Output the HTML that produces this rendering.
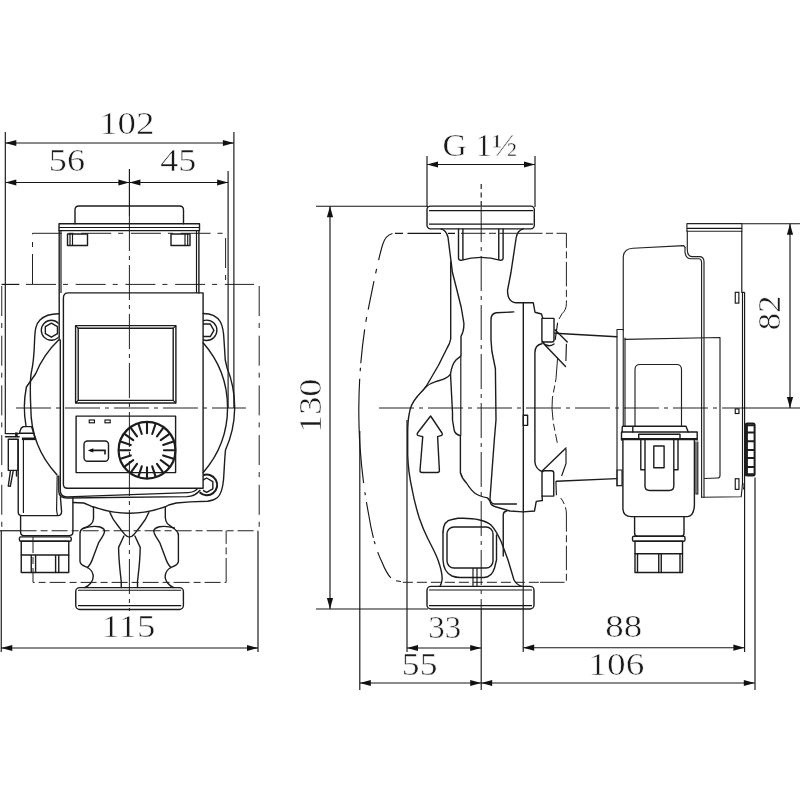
<!DOCTYPE html>
<html><head><meta charset="utf-8"><title>Pump dimensions</title>
<style>
html,body{margin:0;padding:0;background:#fff}
body{width:800px;height:800px;overflow:hidden}
svg{display:block;will-change:transform}
.k{fill:none;stroke:#1c1c1c;stroke-width:1.4;stroke-linecap:round;stroke-linejoin:round}
.m{fill:none;stroke:#222;stroke-width:1.15;stroke-linecap:round;stroke-linejoin:round}
.kk{fill:none;stroke:#1c1c1c;stroke-width:2}
.t{fill:none;stroke:#161616;stroke-width:1.15}
.d{fill:none;stroke:#222;stroke-width:1;stroke-dasharray:30 7 5 7.7}
.dd{fill:none;stroke:#222;stroke-width:1;stroke-dasharray:10 4}
.e{fill:none;stroke:#222;stroke-width:1;stroke-dasharray:24.5 3.5 7 3.5}
.g{fill:none;stroke:#222;stroke-width:1;stroke-dasharray:16 4 7 4}
.f{fill:none;stroke:#222;stroke-width:1;stroke-dasharray:44 6 6 6}
.c{fill:none;stroke:#222;stroke-width:1;stroke-dasharray:35 5 4 5}
.a{fill:#111;stroke:none}
.w{fill:#fff;stroke:#1c1c1c;stroke-width:1.25;stroke-linejoin:round}
text{font-family:"Liberation Serif","DejaVu Serif",serif;fill:#1a1a1a;stroke:#fff;stroke-width:.5;paint-order:fill stroke}
</style></head><body>
<svg width="800" height="800" viewBox="0 0 800 800">
<rect width="800" height="800" fill="#fff"/>
<g id="front-view">
<path class="t" d="M5.3,132V434 M233.9,132V408 M228.1,171V408"/>
<path class="t" d="M5.3,143H233.9"/>
<polygon class="a" points="5.30,143.00 16.30,139.90 16.30,146.10"/>
<polygon class="a" points="233.90,143.00 222.90,146.10 222.90,139.90"/>
<path class="t" d="M5.3,182.5H129.4"/>
<polygon class="a" points="5.30,182.50 16.30,179.40 16.30,185.60"/>
<polygon class="a" points="129.40,182.50 118.40,185.60 118.40,179.40"/>
<path class="t" d="M129.4,182.5H228.1"/>
<polygon class="a" points="129.40,182.50 140.40,179.40 140.40,185.60"/>
<polygon class="a" points="228.10,182.50 217.10,185.60 217.10,179.40"/>
<path class="t" d="M1.25,531V652 M258,531V652"/>
<path class="t" d="M1.25,648H258"/>
<polygon class="a" points="1.25,648.00 12.25,644.90 12.25,651.10"/>
<polygon class="a" points="258.00,648.00 247.00,651.10 247.00,644.90"/>
<text x="99.18" y="134" font-size="30.5" textLength="55.35" lengthAdjust="spacingAndGlyphs">102</text>
<text x="48.82" y="171" font-size="30.5" textLength="36.26" lengthAdjust="spacingAndGlyphs">56</text>
<text x="160.28" y="171" font-size="30.5" textLength="36.17" lengthAdjust="spacingAndGlyphs">45</text>
<text x="101.48" y="636.8" font-size="30.5" textLength="53.91" lengthAdjust="spacingAndGlyphs">115</text>
<path class="t" d="M129.4,169V216"/>
<path class="c" d="M129.4,216V611"/>
<path class="c" d="M16,408H246"/>
<path class="d" d="M32.5,284V233.3H225.6V284"/>
<path class="t" d="M1.5,284.4H19.3"/><path class="d" d="M26,284.4H254"/>
<path class="d" d="M1.75,286V530 M259.2,286V527"/>
<path class="t" d="M0,530.75H20.6"/>
<path class="g" d="M20.6,530.75H258"/>
<path class="g" d="M33,537V582.4H226.15"/><path class="e" d="M226.15,582.4V530.75"/>
<path class="k" d="M58.6,313.75C50,313.75 44,316 40,320C36,324 35,329 34.6,340C34.2,352 33.3,364 31.5,371.5C30,379 30.2,395 30.8,408A98.5,98.5 0 0 0 56.9,474.7"/>
<path class="k" d="M58.6,340A98.5,98.5 0 0 0 35.5,374L26.4,387A105,105 0 0 0 26,426"/>
<clipPath id="cl"><rect x="30" y="300" width="28.6" height="60"/></clipPath>
<g clip-path="url(#cl)"><circle class="k" cx="51.3" cy="330.3" r="10"/><polygon class="k" points="57.46,333.70 51.40,337.20 45.34,333.70 45.34,326.70 51.40,323.20 57.46,326.70"/></g>
<path class="k" d="M203.1,313.5C210,313.5 217,316 220.5,322C223,327 223.75,333 224,340L225.25,360L227.1,368A105,105 0 0 1 225.5,450C224.5,460 224.25,470 223.5,480C222.5,490 221,494.5 217.5,497.5C214,500.3 211,501 207.5,501.25L190,501.9L176.25,503L168.75,505L165.3,506.8V517.5C165.5,521 166.3,522.5 167.5,523.75L172.5,527.5C175.5,529.5 178,531.5 178.4,534.5"/>
<path class="k" d="M203.1,342.75A98.5,98.5 0 0 1 203.25,472.5"/>
<clipPath id="cr"><rect x="203.1" y="300" width="40" height="60"/></clipPath>
<g clip-path="url(#cr)"><circle class="k" cx="206.7" cy="330.3" r="10.2"/><polygon class="k" points="213.90,330.30 210.30,336.54 203.10,336.54 199.50,330.30 203.10,324.06 210.30,324.06"/></g>
<path class="kk" d="M203.2,475.3A10.3,10.3 0 1 1 199.6,492.2"/>
<clipPath id="cb"><rect x="203.1" y="470" width="40" height="40"/></clipPath>
<g clip-path="url(#cb)"><polygon class="k" points="212.84,488.80 206.60,492.40 200.36,488.80 200.36,481.60 206.60,478.00 212.84,481.60"/></g>
<path class="k" d="M75,223.75V210Q75,206 79,206H179.5Q183.5,206 183.5,210V223.75"/>
<rect class="k" x="59" y="223.75" width="140.5" height="6.85"/>
<path class="t" d="M59,227.5H199.5"/>
<path class="k" d="M59.2,230.6V340 M198.9,230.6V293"/>
<path class="t" d="M61,230.6V293 M196.5,230.6V293"/>
<rect class="k" x="67.5" y="234" width="20" height="11.5"/><path class="t" d="M70,234V245.5M72.5,234V245.5"/>
<rect class="k" x="171" y="234" width="19" height="11.5"/><path class="t" d="M185,234V245.5M187.7,234V245.5"/>
<path class="k" d="M68.4,292.9H203.1V488.3H67.4Q63.4,488.3 63.4,484.3V297.9Q63.4,292.9 68.4,292.9Z"/>
<path class="k" d="M60.3,340V490.5Q60.5,496.9 67,496.9L188,492.6Q194.5,492.3 197.5,488.6"/>
<path class="k" d="M58.8,476V491.5Q59,498 67,498L187,496.6Q195,496.3 200,490.2"/>
<rect class="k" x="75.6" y="325.6" width="100.3" height="77.4"/><rect class="k" x="78.2" y="328.3" width="95" height="72.1"/>
<path class="t" d="M75.6,325.6L78.2,328.3M175.9,325.6L173.2,328.3M75.6,403L78.2,400.4M175.9,403L173.2,400.4"/>
<rect class="k" x="76.1" y="416.1" width="99.5" height="56.5"/>
<rect class="t" x="89.25" y="420" width="5.2" height="2.8"/><rect class="t" x="105" y="420" width="5.2" height="2.8"/>
<rect class="k" x="84" y="441" width="24.5" height="20.3" rx="3.5"/>
<path class="kk" d="M90,450.4H105V454.5" style="stroke-width:1.6"/><polygon class="a" points="87.80,450.40 93.30,448.20 93.30,452.60"/>
<circle class="kk" style="stroke-width:2.2" cx="147" cy="450.2" r="28.4"/>
<path class="kk" style="stroke-width:2.1;stroke-linecap:round" d="M147.00,467.20L147.00,477.20M141.75,466.37L138.66,475.88M137.01,463.95L131.13,472.04M133.25,460.19L125.16,466.07M130.83,455.45L121.32,458.54M130.00,450.20L120.00,450.20M130.83,444.95L121.32,441.86M133.25,440.21L125.16,434.33M137.01,436.45L131.13,428.36M141.75,434.03L138.66,424.52M147.00,433.20L147.00,423.20M152.25,434.03L155.34,424.52M156.99,436.45L162.87,428.36M160.75,440.21L168.84,434.33M163.17,444.95L172.68,441.86M164.00,450.20L174.00,450.20M163.17,455.45L172.68,458.54M160.75,460.19L168.84,466.07M156.99,463.95L162.87,472.04M152.25,466.37L155.34,475.88"/>
<path class="k" d="M5.5,433.6H19.2 M5.5,436.7H19.2 M15.8,433V437 M17,433V437"/>
<path class="k" d="M19.25,433.4L21,428.4L23.2,426.6H31.5L33.25,431.9L35,438 M19.25,433.2H33.5"/>
<path class="kk" style="stroke-width:2.6" d="M21.9,438.8H35.9"/>
<path class="k" d="M18.2,439.4V512Q18.2,515.6 22,515.6H57.5Q61.5,515.8 61.6,511.5L60.4,497"/>
<path class="t" d="M23.4,439.4V513 M57.2,475.5L56.6,510L57.4,515"/>
<path class="k" d="M8.3,439.3H18V470.4H8.3Z M10.5,470.4L8.3,486L10.3,486.3L13.3,470.4 M16.5,470.4V476"/>
<path class="k" d="M20.6,515.6V532Q20.6,535.6 24,535.6H69Q72.9,535.6 72.9,532V497.8"/>
<rect class="k" x="19.4" y="536.9" width="51.85" height="4.35" rx="1.5"/>
<rect class="k" x="21.25" y="541.25" width="47.5" height="31.25"/>
<path class="k" d="M21.25,555H68.75M31.25,555V572.5M35.6,555V572.5M55.6,555V572.5M58.75,555V572.5"/>
<path class="k" d="M93,506.6A105,105 0 0 0 165.5,506.6"/>
<path class="k" d="M73.1,502.5L83.75,503L90,505.6L93.5,507.3V518.75C93.3,524 88,527 82.5,528.75Q80,530 80,533.75V561.25C80,565 84,566 87.5,567.5Q92,570 93,574.5Q94,579 90.6,583.25Q88,586.5 84.5,587.6"/>
<path class="k" d="M84,528C89,526.5 95,526 99,526.8Q104,528 104.6,530.75C104.6,535 101,538 98.5,543L93.25,557Q91,564 87.5,567.5"/>
<path class="k" d="M178.4,533.75V561.25C178.4,565 174.4,566 170.9,567.5Q166.4,570 165.4,574.5Q164.4,579 167.8,583.25Q170.4,586.5 173.9,587.6"/>
<path class="k" d="M174.4,528C169.4,526.5 163.4,526 159.4,526.8Q154.4,528 153.8,530.75C153.8,535 157.4,538 159.9,543L165.15,557Q167.4,564 170.9,567.5"/>
<path class="k" d="M109.9,512.4C112,518 114,521 117.75,525.5L123.9,533.4Q127,537 129.4,537Q132,537 134.9,533.4L141,525.5C144.7,521 146.5,518 148.8,512.4"/>
<path class="k" d="M123.9,536L118.6,547.4C118.6,560 120,570 121.25,581.5V587.5 M134.9,536L140.2,547.4C140.2,560 138.8,570 137.5,581.5V587.5"/>
<rect class="k" x="75.75" y="587.6" width="107.65" height="21.9" rx="4"/>
<path class="t" d="M78,590.25H181.2M78,605.6H181.2"/>
</g>
<g id="side-view">
<path class="t" d="M427,156V207 M535,156V207"/>
<path class="t" d="M427,164.5H535"/>
<polygon class="a" points="427.00,164.50 438.00,161.40 438.00,167.60"/>
<polygon class="a" points="535.00,164.50 524.00,167.60 524.00,161.40"/>
<text x="442.40" y="156.25" font-size="30.5" textLength="75.02" lengthAdjust="spacingAndGlyphs">G 1½</text>
<path class="t" d="M316,206.2H428 M316,609H428"/>
<path class="t" d="M330,206.2V609"/>
<polygon class="a" points="330.00,206.20 333.10,217.20 326.90,217.20"/>
<polygon class="a" points="330.00,609.00 326.90,598.00 333.10,598.00"/>
<text transform="translate(320.6,433.02) rotate(-90)" x="0" y="0" font-size="30.5" textLength="54.47" lengthAdjust="spacingAndGlyphs">130</text>
<path class="t" d="M742,223.75H800 M742.5,408H800"/>
<path class="t" d="M790,223.75V408"/>
<polygon class="a" points="790.00,223.75 793.10,234.75 786.90,234.75"/>
<polygon class="a" points="790.00,408.00 786.90,397.00 793.10,397.00"/>
<text transform="translate(780,330.13) rotate(-90)" x="0" y="0" font-size="30.5" textLength="34.53" lengthAdjust="spacingAndGlyphs">82</text>
<path class="t" d="M359.8,431V690 M407,420V652 M481.2,609V690 M523.2,512V652 M744.6,292.3V652 M755,477.5V690"/>
<path class="t" d="M407,648H481.2"/>
<polygon class="a" points="407.00,648.00 418.00,644.90 418.00,651.10"/>
<polygon class="a" points="481.20,648.00 470.20,651.10 470.20,644.90"/>
<path class="t" d="M523.2,647.7H744.4"/>
<polygon class="a" points="523.20,647.70 534.20,644.60 534.20,650.80"/>
<polygon class="a" points="744.40,647.70 733.40,650.80 733.40,644.60"/>
<path class="t" d="M359.8,683H481.2"/>
<polygon class="a" points="359.80,683.00 370.80,679.90 370.80,686.10"/>
<polygon class="a" points="481.20,683.00 470.20,686.10 470.20,679.90"/>
<path class="t" d="M481.2,683H754.8"/>
<polygon class="a" points="481.20,683.00 492.20,679.90 492.20,686.10"/>
<polygon class="a" points="754.80,683.00 743.80,686.10 743.80,679.90"/>
<text x="428.35" y="638" font-size="30.5" textLength="32.97" lengthAdjust="spacingAndGlyphs">33</text>
<text x="605.32" y="637" font-size="30.5" textLength="36.90" lengthAdjust="spacingAndGlyphs">88</text>
<text x="401.87" y="675" font-size="30.5" textLength="35.56" lengthAdjust="spacingAndGlyphs">55</text>
<text x="588.39" y="674.8" font-size="30.5" textLength="55.92" lengthAdjust="spacingAndGlyphs">106</text>
<path class="t" style="stroke-dasharray:5 3.5" d="M481.2,184V207"/><path class="c" d="M481.2,207V609"/>
<path class="c" d="M379,408H742.5"/>
<path class="t" style="stroke-dasharray:0 2 5 6 29 8.5 3 3.5 36.5 7 3 9.2 104.3 7.6 3.4 4.6 34 7.7 5 7.7 29 7.7 4.6 9.2 40 0" d="M402.9,581.8L395,580.6C390,579 386,572 381.9,562C376,550 372,535 368.75,515C365,495 362,475 360,446.7C359.2,435 358.8,420 358.8,408C359,375 362,345 366,320.75C370,300 378,260 382.5,245C384,240 386,235 392.5,233.5"/>
<path class="t" d="M395,233.3H403M407.5,233.3H441M448,233.3H455"/><path class="e" d="M461,233.3H518"/><path class="e" d="M518,233.3H566.4V303.25Q566.4,310 562,313.75L559,319"/>
<path class="dd" d="M402.9,582.3H540"/><path class="e" d="M540,582.3H566.4V514Q566.4,505 560,497"/>
<path class="e" d="M557.6,357.75L556,378.75L552.4,398L552,408.5L553.25,422.5L557.25,442.75"/>
<path class="t" d="M566.4,343.75L565.9,361 M557.6,322.75L555.2,340 M566,449V463.75L561.6,476 M555.9,481.25L556.4,495.25"/>
<rect class="k" x="427" y="206.1" width="107.3" height="22.75" rx="3.5"/>
<path class="t" d="M429,210.65H533M429,224.1H533"/>
<path class="k" d="M458.5,228.85V258Q458.5,260.3 461,260.3Q481,254.5 500.6,260.3Q503.1,260.3 503.1,258V228.85 M462.9,228.85V259.7 M498.75,228.85V259.7"/>
<path class="k" d="M441,228.85C445,230 447,233 448,237.25L452.4,272.25L456.9,290L461.25,307.5L463.9,323.25C464,328 463.5,332 461,336.4V355.6C459,358 457,359 456,360C453,363 451.6,367 450.5,374C448,378 444,379.25 435,381.9C431,383 428,385 425.3,387.4"/>
<path class="k" d="M450.7,262V339C450,343 449,345 447.25,347.75L438.5,365.25L426.25,386.25C422,392 419,394 415.75,398.5C412,403 410,408 409.2,414C408,420 407.7,425 407.7,432V455C408,467 410,480 412.25,490C414,500 416.5,509 419.25,518C422,526 425,533 428,539C431,545 435,552 438,560C440.5,567 442.5,576 442,580Q441.5,584 440,586.4"/>
<path class="k" d="M450.5,374L451.6,395L452.5,412.5V420L454.25,430.5Q455,434 460.4,435.75V472.5C461.5,477 463.5,480 466.5,483C469,487 472,491 475.25,493.5C479,496 483,497 487.5,497.9Q490,500 491,504Q493,506.5 498,507.5L510,511L523.1,511.9L534.5,511L536.25,501.4L542.4,500.5L542,496.1"/>
<path class="t" d="M460.8,355.6V435.75"/>
<path class="k" d="M523.25,228.85C519,230 517,233 516.25,237.25L511,272.25L507.6,290C507.3,296 508.5,299 511.5,301.2Q513.5,302.8 516,302.8H533.3L535,312.25L541.5,314L542.75,318.4"/>
<path class="k" d="M513.75,311.9L496.25,312.75Q491,313.5 491,319.75V340L491.9,351.25L495.4,368.75L496,420L494.5,437.5L491.9,472.5L490,498.75Q490.5,503.5 494.5,504H516.4"/>
<path class="k" d="M523.3,302.8V512"/>
<rect class="k" x="523.3" y="415.3" width="4.3" height="10.1"/>
<path class="k" d="M541.9,343.75Q535,345 534.9,352.5V462Q535.4,469 542.4,471.6"/>
<path class="k" d="M541.9,318.4H554V340Q554,342 552,342H544Q541.9,342 541.9,340Z M541.9,342Q548,348.5 554,344"/>
<path class="k" d="M542,496.1V473Q542,470.75 544.5,470.75H551.5Q553.75,470.75 553.75,473V496.1Z"/>
<path class="k" d="M555,333.25L616.75,336.75 M556.4,481.25L616.75,478.6"/>
<path class="k" d="M555,329.75L567.25,342 M544.5,344.6L565.5,366.5 M566,448L542.4,470.75"/>
<path class="k" d="M430.6,416L417.5,433Q416.5,435 418.5,435.6L422.75,436.6L420,470.5Q420,472.5 422,472.5H437.4Q439.4,472.5 439.4,470.5L437.6,436.6L441,435.6Q443,435 442,433Z"/>
<path class="k" d="M443,532V560Q443.5,572 452,576Q456,577.5 460,577.5H484Q492,577 494.5,568L496.5,560V535"/>
<path class="k" d="M443,532Q443.5,520.5 452,519.5L458,518.3C466,518 474,518.5 478.75,519.75Q487,521.5 491,525C496,530 499,537 501.5,542.5L508,560L514,580Q517,585 522,586.4"/>
<rect class="k" x="447" y="527" width="46" height="41" rx="7"/>
<path class="k" d="M503.25,556V514.5Q503.5,511.5 506.75,511"/>
<path class="t" d="M473,568V586 M477,568V586"/>
<rect class="k" x="427" y="586.4" width="107" height="22.6" rx="4"/>
<path class="t" d="M429,590H532M429,605.6H532"/>
<path class="m" d="M617,329.5V486 M617,329.5H623.25 M623.25,329.5V426 M625,338V426"/>
<rect class="m" x="617" y="470" width="5" height="15.6"/>
<path class="m" d="M623.25,330V258Q623.25,248.5 633,248.2L683.75,245.6L685.2,247.5"/>
<path class="m" d="M685,247.5V252Q685.6,258.75 691,258.75H699Q701.6,259 701.6,263V497.3"/>
<path class="m" d="M687.3,231V250Q687.5,256.5 692,256.6H700Q704,257 704,262V497.3"/>
<rect class="m" x="686.9" y="223.6" width="55" height="7.6"/>
<path class="t" d="M687,228.3H742"/>
<path class="t" d="M741.8,231V292.3H744.6 M742.5,292.3V486"/>
<rect class="t" x="735.25" y="292.3" width="3.6" height="10.8"/>
<path class="m" d="M625,339.4L720,337.5V475.5Q720,478 717.5,478L704.6,478.5"/>
<path class="m" d="M635,426V369.5Q635,364.5 640,364.5H676.5Q681.5,364.5 681.5,369.5V426"/>
<path class="m" d="M702.2,497.3L741.2,496.8L741.9,490L742.5,484H744.4L743.5,489"/>
<rect class="t" x="735.25" y="408.9" width="3.7" height="4.6"/><rect class="t" x="735.25" y="478.75" width="3.7" height="10.6"/>
<rect class="kk" x="745.6" y="423.6" width="9" height="52" rx="1.5"/>
<path class="kk" d="M746.6,424V475.5" style="stroke-width:2.6"/>
<path class="kk" d="M745,425.2H754.5M745,432.5H755M745,441.25H755M745,450H755M745,458H755M745,467H755M745,474.3H754.5"/>
<path class="k" d="M622.2,432V427.2Q622.2,426.2 623.2,426.2H686L688.2,432 M632.8,426.2V432"/>
<path class="k" d="M621.5,440V432H697.2V440"/>
<path class="kk" style="stroke-width:2.3" d="M621.5,439.2H697.2"/>
<path class="k" d="M638.7,438V434.2H680V438"/>
<path class="k" d="M640.8,440V469.8H645 M678,440V469.8H673.8 M645,440V486Q645,490.5 649.5,490.5H669.3Q673.8,490.5 673.8,486V440"/>
<rect class="k" x="653.8" y="446" width="10.3" height="21.8"/>
<path class="k" d="M622.9,440V509Q623.5,516.6 631,516.6H687.5Q694,516 694.4,505V440"/>
<path class="t" d="M696,441.6V494H697.8V441.6"/>
<path class="k" d="M634.6,516.6V533Q634.6,536.25 637.6,536.25H681Q684,536.25 684,533V516.6"/>
<rect class="k" x="632.5" y="536.25" width="52.5" height="5" rx="1.5"/>
<rect class="k" x="635" y="541.25" width="47.5" height="31.25"/>
<path class="k" d="M635,553.75H682.5M637.5,553.75V572.5M658.75,553.75V572.5M661.25,553.75V572.5M680,553.75V572.5"/>
</g>
</svg>
</body></html>
